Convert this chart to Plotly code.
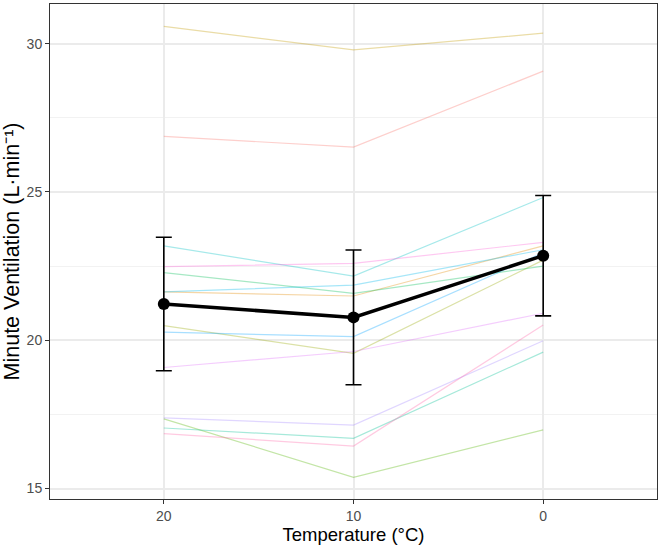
import plotly.graph_objects as go
import math

temps = ["20", "10", "0"]

# individual subjects (values at 20, 10, 0 °C)
s01 = [26.87, 26.51, 29.07]
s02 = [21.63, 21.49, 23.18]
s03 = [30.58, 29.79, 30.35]
s04 = [20.49, 19.56, 22.70]
s05 = [17.35, 15.38, 16.98]
s06 = [22.28, 21.58, 22.50]
s07 = [17.04, 16.69, 19.60]
s08 = [23.18, 22.16, 24.81]
s09 = [21.63, 21.86, 23.05]
s10 = [20.27, 20.12, 22.95]
s11 = [17.38, 17.14, 19.98]
s12 = [19.08, 19.62, 20.91]
s13 = [22.48, 22.59, 23.30]
s14 = [16.85, 16.43, 20.51]
subjects = [s01, s02, s03, s04, s05, s06, s07, s08, s09, s10, s11, s12, s13, s14]

mean_vals = [21.22, 20.77, 22.85]
err_vals = [2.25, 2.27, 2.03]


def hcl_to_rgb(h, c=100.0, l=65.0):
    hr = math.radians(h)
    u = c * math.cos(hr)
    v = c * math.sin(hr)
    Xn, Yn, Zn = 0.95047, 1.0, 1.08883
    un = 4 * Xn / (Xn + 15 * Yn + 3 * Zn)
    vn = 9 * Yn / (Xn + 15 * Yn + 3 * Zn)
    Y = Yn * (((l + 16) / 116) ** 3 if l > 8 else l / 903.3)
    up = u / (13 * l) + un
    vp = v / (13 * l) + vn
    X = Y * 9 * up / (4 * vp)
    Z = Y * (12 - 3 * up - 20 * vp) / (4 * vp)
    r = 3.2406 * X - 1.5372 * Y - 0.4986 * Z
    g = -0.9689 * X + 1.8758 * Y + 0.0415 * Z
    b = 0.0557 * X - 0.2040 * Y + 1.0570 * Z

    def gam(x):
        x = 1.055 * x ** (1 / 2.4) - 0.055 if x > 0.0031308 else 12.92 * x
        return max(0, min(255, round(x * 255)))
    return gam(r), gam(g), gam(b)


n = len(subjects)
fig = go.Figure()
for i, s in enumerate(subjects):
    h = 15 + 360 * i / n
    r, g, b = hcl_to_rgb(h)
    fig.add_trace(go.Scatter(x=temps, y=s, mode="lines",
                             line=dict(color=f"rgba({r},{g},{b},0.35)", width=1.2),
                             showlegend=False, hoverinfo="skip"))

fig.add_trace(go.Scatter(x=temps, y=mean_vals, mode="lines+markers",
                         line=dict(color="black", width=3.5),
                         marker=dict(color="black", size=12),
                         error_y=dict(type="data", array=err_vals, color="black",
                                      thickness=1.6, width=8),
                         showlegend=False))

fig.update_layout(
    width=661, height=548,
    margin=dict(l=50, r=4, t=3.5, b=48.5),
    paper_bgcolor="white", plot_bgcolor="white",
    font=dict(family="Liberation Sans, Arial, sans-serif"),
    xaxis=dict(type="category", range=[-0.6, 2.6],
               showgrid=True, gridcolor="#EBEBEB", gridwidth=1.5,
               showline=True, mirror=True, linecolor="#333333", linewidth=1,
               ticks="outside", ticklen=4, tickcolor="#333333",
               tickfont=dict(size=14, color="#4D4D4D"),
               title=dict(text="Temperature (°C)", font=dict(size=18.5, color="black"), standoff=5),
               zeroline=False),
    yaxis=dict(range=[14.647, 31.335], tickvals=[15, 20, 25, 30],
               showgrid=True, gridcolor="#EBEBEB", gridwidth=1.5,
               minor=dict(tickvals=[17.5, 22.5, 27.5], showgrid=True, gridcolor="#F2F2F2", gridwidth=1),
               showline=True, mirror=True, linecolor="#333333", linewidth=1,
               ticks="outside", ticklen=4, tickcolor="#333333",
               tickfont=dict(size=14, color="#4D4D4D"),
               title=dict(text="Minute Ventilation (L·min⁻¹)", font=dict(size=21.5, color="black"), standoff=3),
               zeroline=False),
)

fig.write_html("out.html")
